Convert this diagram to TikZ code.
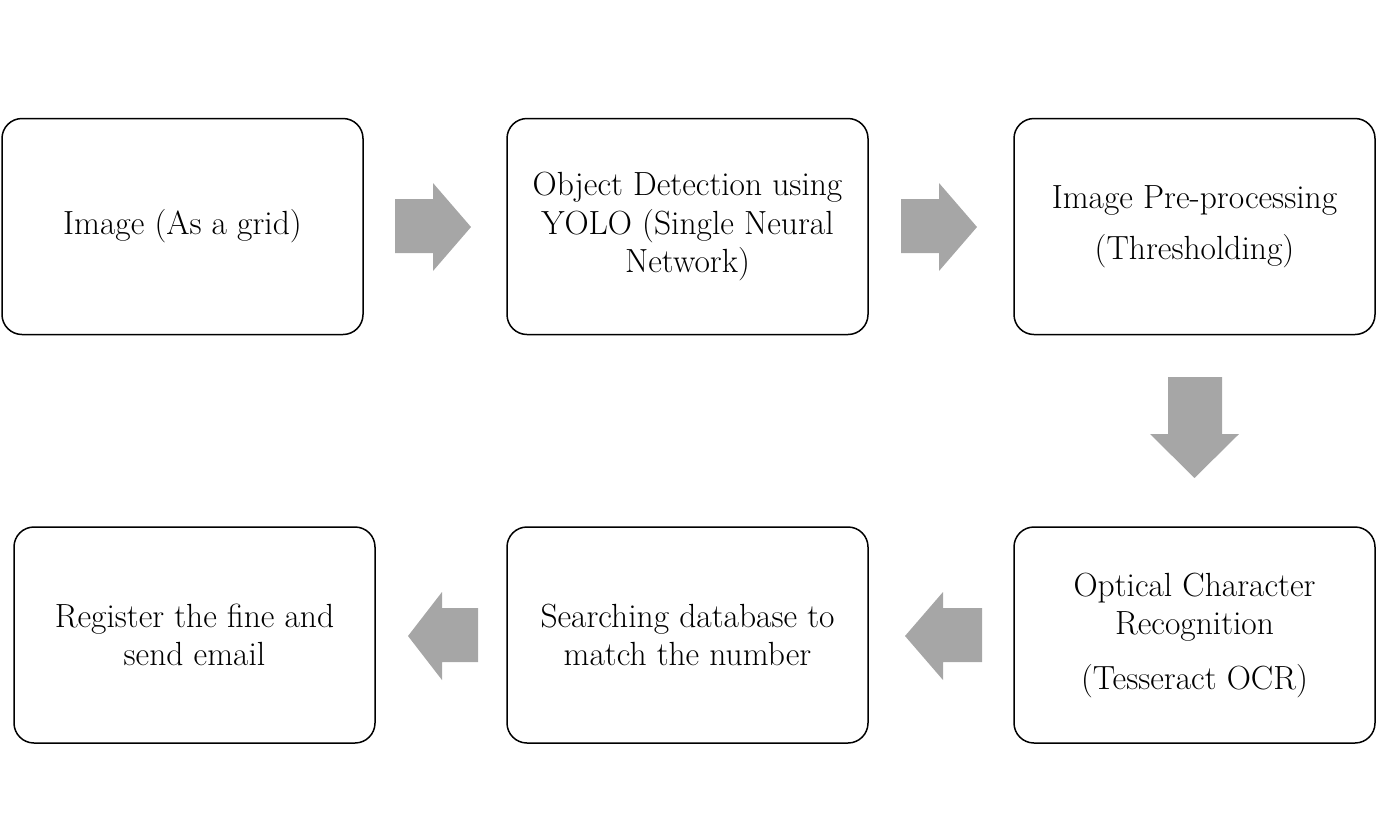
\documentclass[tikz,border=0pt]{standalone}
\usetikzlibrary{positioning}
\tikzset{
  stepbox/.style={draw=black, line width=1.5pt, rounded corners=20pt, fill=white,
    minimum width=361pt, minimum height=216pt, align=center, inner sep=0pt,
    font=\fontsize{33.5}{38.5}\selectfont},
  blockarrow/.style={fill=arrowgray, draw=none}
}
\definecolor{arrowgray}{RGB}{166,166,166}
\begin{document}
\begin{tikzpicture}[x=1pt,y=-1pt]
\useasboundingbox (0,0) rectangle (1376,815);
% boxes
\node[stepbox] (b1) at (182.5,226.5) {Image (As a grid)};
\node[stepbox] (b2) at (687.5,226.5) {Object Detection using\\YOLO (Single Neural\\Network)};
\node[stepbox] (b3) at (1194.5,226.5) {Image Pre-processing\\[13pt](Thresholding)};
\node[stepbox] (b4) at (1194.5,635) {Optical Character\\Recognition\\[16pt](Tesseract OCR)};
\node[stepbox] (b5) at (687.5,635) {Searching database to\\match the number};
\node[stepbox] (b6) at (194.5,635) {Register the fine and\\send email};
% block arrows
\fill[blockarrow] (395,199) -- (433,199) -- (433,183) -- (471,227) -- (433,271) -- (433,253) -- (395,253) -- cycle;
\fill[blockarrow] (901,199) -- (939,199) -- (939,183) -- (977,227) -- (939,271) -- (939,253) -- (901,253) -- cycle;
\fill[blockarrow] (1168,377) -- (1222,377) -- (1222,434) -- (1239,434) -- (1194.5,478) -- (1150,434) -- (1168,434) -- cycle;
\fill[blockarrow] (982,608) -- (943,608) -- (943,592) -- (905,636) -- (943,680) -- (943,662) -- (982,662) -- cycle;
\fill[blockarrow] (478,608) -- (442,608) -- (442,592) -- (408,636) -- (442,680) -- (442,662) -- (478,662) -- cycle;
\end{tikzpicture}
\end{document}
